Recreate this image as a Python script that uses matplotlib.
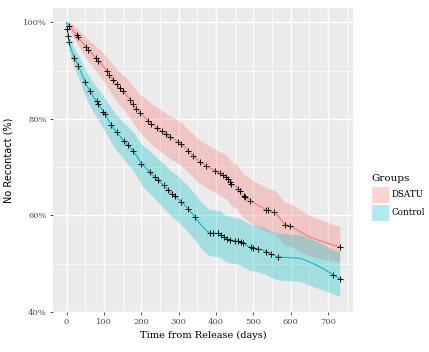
import numpy as np
import matplotlib
matplotlib.use('Agg')
import matplotlib.pyplot as plt
from matplotlib.patches import Rectangle
from matplotlib.ticker import MultipleLocator, FuncFormatter

# DSATU group: times, survival, 95% band
dsatu_t = [0, 7, 15, 28, 40, 55, 68, 80, 95, 107, 123, 142, 160, 178, 192, 205, 220, 232,
           250, 272, 290, 307, 330, 356, 375, 392, 410, 428, 441, 455, 472, 490, 510, 535,
           557, 570, 583, 601, 620, 650, 680, 700, 715, 731]
dsatu_s = [1.000, 0.993, 0.985, 0.973, 0.960, 0.946, 0.935, 0.925, 0.912, 0.900, 0.882, 0.864,
           0.850, 0.830, 0.816, 0.806, 0.795, 0.787, 0.777, 0.765, 0.757, 0.748, 0.730, 0.711,
           0.702, 0.695, 0.687, 0.679, 0.665, 0.660, 0.641, 0.631, 0.622, 0.611, 0.606, 0.595,
           0.581, 0.578, 0.568, 0.555, 0.547, 0.542, 0.538, 0.535]
dsatu_lo = [1.000, 0.985, 0.972, 0.957, 0.941, 0.923, 0.910, 0.898, 0.883, 0.869, 0.849, 0.829,
            0.813, 0.792, 0.777, 0.765, 0.753, 0.744, 0.733, 0.720, 0.712, 0.703, 0.685, 0.666,
            0.657, 0.650, 0.642, 0.634, 0.620, 0.615, 0.596, 0.586, 0.577, 0.566, 0.562, 0.551,
            0.538, 0.535, 0.527, 0.516, 0.510, 0.507, 0.505, 0.504]
dsatu_hi = [1.000, 1.000, 0.997, 0.988, 0.978, 0.967, 0.958, 0.950, 0.939, 0.929, 0.913, 0.897,
            0.885, 0.867, 0.854, 0.846, 0.836, 0.829, 0.820, 0.809, 0.801, 0.793, 0.775, 0.756,
            0.747, 0.740, 0.732, 0.725, 0.711, 0.706, 0.687, 0.677, 0.668, 0.657, 0.652, 0.640,
            0.627, 0.624, 0.614, 0.600, 0.591, 0.585, 0.580, 0.578]
dsatu_cens = [7, 27, 30, 52, 58, 78, 85, 107, 114, 125, 134, 143, 151, 169, 178, 187, 196,
              218, 227, 241, 254, 267, 276, 298, 307, 325, 339, 356, 374, 397, 410, 419, 426,
              432, 438, 441, 459, 463, 474, 477, 492, 535, 539, 554, 584, 599, 731]

# Control group
ctrl_t = [0, 2, 4, 6, 12, 20, 32, 40, 49, 60, 70, 82, 100, 110, 120, 134, 153, 165, 178, 190,
          200, 212, 223, 241, 260, 281, 295, 307, 325, 343, 361, 375, 383, 410, 423, 440, 463,
          490, 512, 535, 548, 566, 600, 624, 645, 668, 690, 713, 731]
ctrl_s = [1.000, 0.987, 0.973, 0.959, 0.945, 0.927, 0.909, 0.895, 0.877, 0.861, 0.848, 0.834,
          0.813, 0.800, 0.787, 0.772, 0.755, 0.745, 0.734, 0.720, 0.707, 0.698, 0.690, 0.676,
          0.662, 0.645, 0.637, 0.628, 0.614, 0.597, 0.579, 0.568, 0.564, 0.562, 0.553, 0.549,
          0.546, 0.534, 0.531, 0.525, 0.519, 0.514, 0.512, 0.511, 0.505, 0.497, 0.488, 0.477,
          0.469]
ctrl_lo = [1.000, 0.978, 0.960, 0.944, 0.927, 0.906, 0.885, 0.869, 0.849, 0.831, 0.817, 0.801,
           0.778, 0.764, 0.750, 0.734, 0.716, 0.705, 0.693, 0.678, 0.664, 0.654, 0.645, 0.630,
           0.615, 0.597, 0.589, 0.580, 0.566, 0.549, 0.531, 0.520, 0.516, 0.514, 0.505, 0.501,
           0.498, 0.486, 0.483, 0.477, 0.471, 0.466, 0.464, 0.463, 0.457, 0.450, 0.444, 0.437,
           0.432]
ctrl_hi = [1.000, 0.996, 0.985, 0.973, 0.961, 0.946, 0.931, 0.919, 0.903, 0.889, 0.877, 0.865,
           0.846, 0.834, 0.822, 0.808, 0.792, 0.783, 0.773, 0.760, 0.748, 0.740, 0.733, 0.720,
           0.707, 0.691, 0.684, 0.675, 0.661, 0.645, 0.627, 0.616, 0.612, 0.610, 0.601, 0.597,
           0.594, 0.582, 0.579, 0.573, 0.567, 0.563, 0.561, 0.560, 0.554, 0.547, 0.538, 0.528,
           0.524]
ctrl_cens = [2, 4, 6, 20, 31, 49, 62, 80, 85, 98, 102, 120, 134, 153, 165, 178, 200, 223, 236,
             245, 260, 272, 281, 290, 307, 325, 343, 383, 392, 405, 414, 421, 428, 437, 450,
             459, 468, 472, 494, 499, 512, 535, 548, 566, 713, 731]

groups = ['DSATU', 'Control']
red, cyan = '#F8766D', '#00BFC4'

fig = plt.figure(figsize=(4.29, 3.52), dpi=100)
ax = fig.add_axes([0.1235, 0.1136, 0.6993, 0.8636])
ax.set_facecolor('#EBEBEB')
for s in ax.spines.values():
    s.set_visible(False)

series = [(dsatu_t, dsatu_s, dsatu_lo, dsatu_hi, dsatu_cens, red),
          (ctrl_t, ctrl_s, ctrl_lo, ctrl_hi, ctrl_cens, cyan)]
for t, s, lo, hi, cens, col in series:
    t = np.array(t)
    s = np.array(s)
    ax.fill_between(t, lo, hi, color=col, alpha=0.3, lw=0, zorder=2)
    ax.plot(t, s, color=col, lw=0.8, zorder=3)
    # censor marks sit on the curve
    ys = np.interp(cens, t, s)
    ax.plot(cens, ys, ls='none', marker='+', ms=4.2, mew=0.7, color='black', zorder=4)

ax.set_xlim(-36.5, 766.5)
ax.set_ylim(0.3995, 1.030)
ax.xaxis.set_major_locator(MultipleLocator(100))
ax.xaxis.set_minor_locator(MultipleLocator(50))
ax.yaxis.set_major_locator(MultipleLocator(0.2))
ax.yaxis.set_minor_locator(MultipleLocator(0.1))
ax.yaxis.set_major_formatter(FuncFormatter(lambda v, p: '%d%%' % round(v * 100)))
ax.grid(which='major', color='white', lw=1.0, zorder=0)
ax.grid(which='minor', color='white', lw=0.5, zorder=0)
ax.set_axisbelow(True)
ax.tick_params(which='major', length=2.5, width=0.6, color='#333333', labelcolor='#4D4D4D',
               labelsize=6, pad=2)
ax.tick_params(which='minor', length=0)
for lab in ax.get_xticklabels() + ax.get_yticklabels():
    lab.set_family('DejaVu Serif')

ax.set_xlabel('Time from Release (days)', family='DejaVu Serif', fontsize=7, labelpad=3)
ax.set_ylabel('No Recontact (%)', family='DejaVu Sans', fontsize=7, labelpad=7)

# legend drawn by hand
W, H = 429, 352
fig.text(371 / W, 1 - 178 / H, 'Groups', family='DejaVu Serif', fontsize=7.5, va='center')
for i, (g, col) in enumerate(zip(groups, [red, cyan])):
    y0 = 186 + i * 18
    fig.patches.append(Rectangle((372 / W, 1 - (y0 + 17) / H), 16.5 / W, 16.5 / H,
                                 transform=fig.transFigure, facecolor=col, alpha=0.3, lw=0))
    fig.text(392 / W, 1 - (y0 + 8.5) / H, g, family='DejaVu Serif', fontsize=6.3, va='center')

fig.savefig('out.png', dpi=100)
